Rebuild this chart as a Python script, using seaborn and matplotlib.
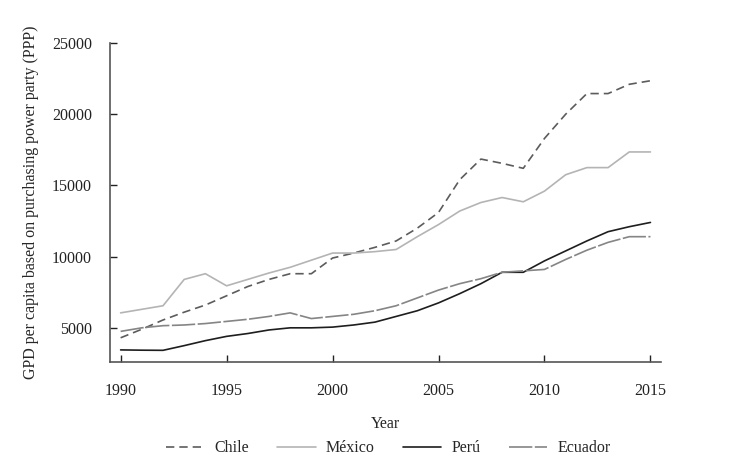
import numpy as np
import pandas as pd
import matplotlib
matplotlib.use("Agg")
import matplotlib.pyplot as plt
import seaborn as sns

# --- data ---
years = list(range(1990, 2016))
chile = [4300, 4900, 5550, 6100, 6600, 7250, 7900, 8400, 8800, 8800,
         9900, 10250, 10650, 11100, 12000, 13100, 15400, 16850, 16550, 16200,
         18300, 20000, 21450, 21450, 22100, 22350]
mexico = [6050, 6300, 6550, 8400, 8800, 7950, 8400, 8850, 9250, 9750,
          10250, 10250, 10350, 10500, 11400, 12250, 13200, 13800, 14150, 13850,
          14600, 15750, 16250, 16250, 17350, 17350]
peru = [3450, 3430, 3420, 3750, 4100, 4400, 4600, 4850, 5000, 5000,
        5050, 5200, 5400, 5800, 6200, 6750, 7400, 8100, 8900, 8900,
        9700, 10400, 11100, 11750, 12100, 12400]
ecuador = [4750, 5000, 5150, 5200, 5300, 5450, 5600, 5800, 6050, 5650,
           5800, 5950, 6200, 6550, 7100, 7650, 8100, 8450, 8900, 9000,
           9100, 9800, 10450, 11000, 11400, 11400]
countries = ["Chile", "México", "Perú", "Ecuador"]
y_ticks = [5000, 10000, 15000, 20000, 25000]
x_ticks = [1990, 1995, 2000, 2005, 2010, 2015]

df = pd.DataFrame({
    "Year": years * 4,
    "GDP": chile + mexico + peru + ecuador,
    "Country": [c for c in countries for _ in years],
})

sns.set_theme(style="ticks")
plt.rcParams["font.family"] = ["Liberation Serif", "DejaVu Serif"]

palette = {"Chile": "#5c5c5c", "México": "#b4b4b4", "Perú": "#1e1e1e", "Ecuador": "#858585"}
dashes = {"Chile": (5, 3), "México": "", "Perú": "", "Ecuador": (14, 1.5)}

fig = plt.figure(figsize=(7.34, 4.58), dpi=100)
ax = fig.add_axes([0.1499, 0.2096, 0.7507, 0.6965])
sns.lineplot(data=df, x="Year", y="GDP", hue="Country", style="Country",
             palette=palette, dashes=dashes, linewidth=1.2, ax=ax)

ax.set_xlim(1989.5, 2015.5)
ax.set_ylim(2600, 25000)
ax.set_xticks(x_ticks)
ax.set_yticks(y_ticks)
ax.tick_params(direction="in", length=5, width=1, colors="#222222", labelsize=11.5)
ax.tick_params(axis="x", pad=15)
ax.tick_params(axis="y", pad=13)
for s in ["top", "right"]:
    ax.spines[s].set_visible(False)
for s in ["left", "bottom"]:
    ax.spines[s].set_color("#555555")
    ax.spines[s].set_linewidth(1.2)

ax.set_xlabel("Year", fontsize=11.5, labelpad=12)
ax.set_ylabel("GPD per capita based on purchasing power party (PPP)", fontsize=11.5, labelpad=9)

ax.legend(title=None, loc="center", bbox_to_anchor=(0.505, -0.27), ncol=4,
          frameon=False, fontsize=11.5, handlelength=2.4, columnspacing=1.75,
          handletextpad=0.65)

fig.savefig("out.png", dpi=100)
